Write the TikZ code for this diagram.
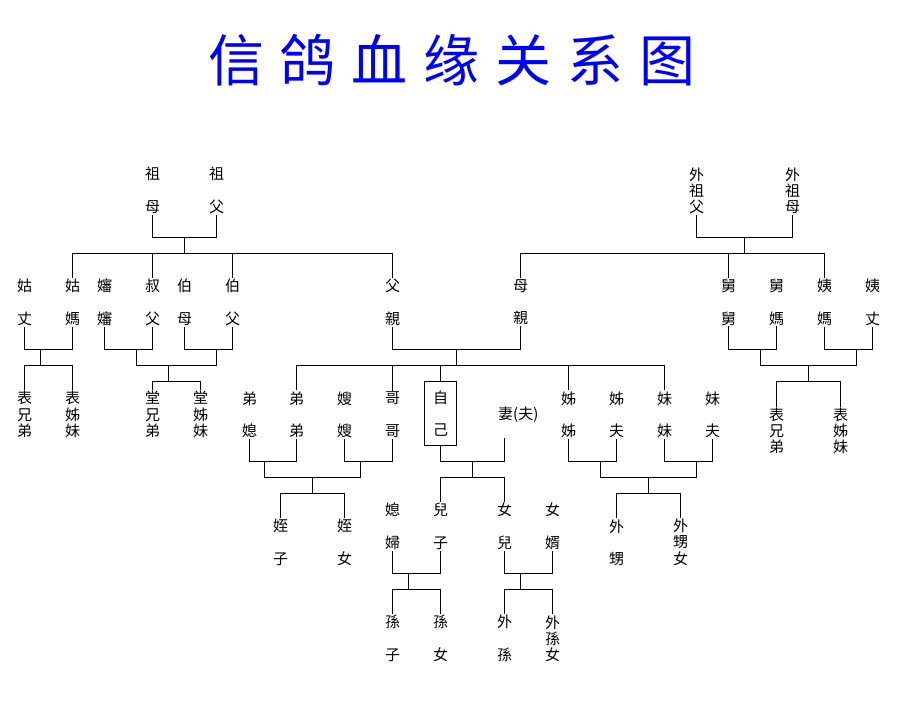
\documentclass[tikz,border=0pt]{standalone}
\usepackage{fontspec}
\newfontfamily\tcfont{Noto Sans CJK TC}
\newfontfamily\scfont{Noto Sans CJK SC}
\begin{document}
\begin{tikzpicture}[x=1pt,y=-1pt,
  lbl/.style={inner sep=0pt,outer sep=1.2pt,align=center},
  two/.style={lbl,font=\tcfont\fontsize{15}{32.5}\selectfont},
  three/.style={lbl,font=\tcfont\fontsize{15}{16.2}\selectfont},
  wire/.style={line width=1.1pt,black},
  selfbox/.style={draw,line width=1.1pt,minimum width=32pt,minimum height=64pt,inner sep=0pt,outer sep=0pt,align=center,font=\tcfont\fontsize{15}{32.5}\selectfont},
  titlestyle/.style={font=\scfont\fontsize{56}{60}\selectfont,text={rgb,255:red,0;green,0;blue,255},inner sep=0pt}
]
\useasboundingbox (0,0) rectangle (900,710);
\fill[white] (0,0) rectangle (900,710);

\node[titlestyle] (title) at (452,60) {信\hspace{16pt}鸽\hspace{16pt}血\hspace{16pt}缘\hspace{16pt}关\hspace{16pt}系\hspace{16pt}图};

% grandparents
\node[two] (zumu) at (152.5,190.5) {祖\\母};
\node[two] (zufu) at (216.5,190.5) {祖\\父};
\node[three] (wzf) at (696.5,191) {外\\祖\\父};
\node[three] (wzm) at (792.5,191) {外\\祖\\母};

% row 2
\node[two] (guzhang) at (24.5,302.2) {姑\\丈};
\node[two] (guma) at (72.5,302.2) {姑\\媽};
\node[two] (shenshen) at (104.5,302.2) {嬸\\嬸};
\node[two] (shufu) at (152.5,302.2) {叔\\父};
\node[two] (bomu) at (184.5,302.2) {伯\\母};
\node[two] (bofu) at (232.5,302.2) {伯\\父};
\node[two] (fuqin) at (392.5,302.2) {父\\親};
\node[two] (muqin) at (520.5,302.2) {母\\親};
\node[two] (jiujiu) at (728.5,302.2) {舅\\舅};
\node[two] (jiuma) at (776.5,302.2) {舅\\媽};
\node[two] (yima) at (824.5,302.2) {姨\\媽};
\node[two] (yizhang) at (872.5,302.2) {姨\\丈};

% row 3
\node[three] (biaoxd1) at (24.5,414.3) {表\\兄\\弟};
\node[three] (biaozm1) at (72.5,414.3) {表\\姊\\妹};
\node[three] (tangxd) at (152.5,414.3) {堂\\兄\\弟};
\node[three] (tangzm) at (200.5,414.3) {堂\\姊\\妹};
\node[two] (dixi) at (249.5,414.7) {弟\\媳};
\node[two] (didi) at (296.5,414.7) {弟\\弟};
\node[two] (saosao) at (344.5,414.7) {嫂\\嫂};
\node[two] (gege) at (392.5,414.7) {哥\\哥};
\node[selfbox] (self) at (440.5,413.5) {自\\己};
\node[lbl,font=\tcfont\fontsize{15}{18}\selectfont,anchor=west] (qi) at (497,415) {妻(夫)};
\node[two] (jiejie) at (568.5,414.7) {姊\\姊};
\node[two] (jiefu) at (616.5,414.7) {姊\\夫};
\node[two] (meimei) at (664.5,414.7) {妹\\妹};
\node[two] (meifu) at (712.5,414.7) {妹\\夫};
\node[three] (biaoxd2) at (776.5,431) {表\\兄\\弟};
\node[three] (biaozm2) at (840.5,431) {表\\姊\\妹};

% row 4
\node[two] (zhizi) at (280.5,542.2) {姪\\子};
\node[two] (zhinu) at (344.5,542.2) {姪\\女};
\node[two] (xifu) at (392.5,526.2) {媳\\婦};
\node[two] (erzi) at (440.5,526.2) {兒\\子};
\node[two] (nuer) at (504.5,526.2) {女\\兒};
\node[two] (nuxu) at (552.5,526.2) {女\\婿};
\node[two] (waisheng) at (616.5,542.7) {外\\甥};
\node[three] (waishengnu) at (680.5,542.2) {外\\甥\\女};

% row 5
\node[two] (sunzi) at (392.5,638.3) {孫\\子};
\node[two] (sunnu) at (440.5,638.3) {孫\\女};
\node[two] (waisun) at (504.5,638.3) {外\\孫};
\node[three] (waisunnu) at (552.5,638.5) {外\\孫\\女};

% junctions
\coordinate (jzu) at (184.5,237.5);
\coordinate (bzu) at (184.5,253.5);
\coordinate (jwz) at (744.5,237.5);
\coordinate (bwz) at (744.5,253.5);
\coordinate (jgu) at (40.5,349.5);
\coordinate (bgu) at (40.5,365.5);
\coordinate (jshu) at (136.5,349.5);
\coordinate (jbo) at (216.5,349.5);
\coordinate (mtang) at (168.5,365.5);
\coordinate (btang) at (168.5,381.5);
\coordinate (jfm) at (456.5,349.5);
\coordinate (bfm) at (456.5,365.5);
\coordinate (jjiu) at (760.5,349.5);
\coordinate (jyi) at (856.5,349.5);
\coordinate (mbiao) at (808.5,365.5);
\coordinate (bbiao) at (808.5,381.5);
\coordinate (jdi) at (264.5,461.5);
\coordinate (jsao) at (360.5,461.5);
\coordinate (mzhi) at (312.5,477.5);
\coordinate (bzhi) at (312.5,493.5);
\coordinate (jself) at (472.5,461.5);
\coordinate (bself) at (472.5,477.5);
\coordinate (jjie) at (600.5,461.5);
\coordinate (jmei) at (696.5,461.5);
\coordinate (msheng) at (648.5,477.5);
\coordinate (bsheng) at (648.5,493.5);
\coordinate (jxi) at (408.5,573.5);
\coordinate (bsun) at (408.5,589.5);
\coordinate (jnu) at (520.5,573.5);
\coordinate (bwsun) at (520.5,589.5);

% paternal grandparents
\draw[wire] (zumu.south) |- (jzu) -| (zufu.south);
\draw[wire] (jzu) -- (bzu);
\draw[wire] (guma.north) |- (bzu) -| (fuqin.north);
\draw[wire] (shufu.north) -- (shufu.north |- bzu);
\draw[wire] (bofu.north) -- (bofu.north |- bzu);

% maternal grandparents
\draw[wire] (wzf.south) |- (jwz) -| (wzm.south);
\draw[wire] (jwz) -- (bwz);
\draw[wire] (muqin.north) |- (bwz) -| (yima.north);
\draw[wire] (jiujiu.north) -- (jiujiu.north |- bwz);

% aunts / uncles (paternal)
\draw[wire] (guzhang.south) |- (jgu) -| (guma.south);
\draw[wire] (jgu) -- (bgu);
\draw[wire] (biaoxd1.north) |- (bgu) -| (biaozm1.north);
\draw[wire] (shenshen.south) |- (jshu) -| (shufu.south);
\draw[wire] (bomu.south) |- (jbo) -| (bofu.south);
\draw[wire] (jshu) |- (mtang) -| (jbo);
\draw[wire] (mtang) -- (btang);
\draw[wire] (tangxd.north) |- (btang) -| (tangzm.north);

% parents
\draw[wire] (fuqin.south) |- (jfm) -| (muqin.south);
\draw[wire] (jfm) -- (bfm);
\draw[wire] (didi.north) |- (bfm) -| (meimei.north);
\draw[wire] (gege.north) -- (gege.north |- bfm);
\draw[wire] (self.north) -- (self.north |- bfm);
\draw[wire] (jiejie.north) -- (jiejie.north |- bfm);

% aunts / uncles (maternal)
\draw[wire] (jiujiu.south) |- (jjiu) -| (jiuma.south);
\draw[wire] (yima.south) |- (jyi) -| (yizhang.south);
\draw[wire] (jjiu) |- (mbiao) -| (jyi);
\draw[wire] (mbiao) -- (bbiao);
\draw[wire] (biaoxd2.north) |- (bbiao) -| (biaozm2.north);

% brothers
\draw[wire] (dixi.south) |- (jdi) -| (didi.south);
\draw[wire] (saosao.south) |- (jsao) -| (gege.south);
\draw[wire] (jdi) |- (mzhi) -| (jsao);
\draw[wire] (mzhi) -- (bzhi);
\draw[wire] (zhizi.north) |- (bzhi) -| (zhinu.north);

% self
\draw[wire] (self.south) |- (jself) -| ([xshift=7.5pt,yshift=-14pt]qi.south west);
\draw[wire] (jself) -- (bself);
\draw[wire] (erzi.north) |- (bself) -| (nuer.north);

% sisters
\draw[wire] (jiejie.south) |- (jjie) -| (jiefu.south);
\draw[wire] (meimei.south) |- (jmei) -| (meifu.south);
\draw[wire] (jjie) |- (msheng) -| (jmei);
\draw[wire] (msheng) -- (bsheng);
\draw[wire] (waisheng.north) |- (bsheng) -| (waishengnu.north);

% children
\draw[wire] (xifu.south) |- (jxi) -| (erzi.south);
\draw[wire] (jxi) -- (bsun);
\draw[wire] (sunzi.north) |- (bsun) -| (sunnu.north);
\draw[wire] (nuer.south) |- (jnu) -| (nuxu.south);
\draw[wire] (jnu) -- (bwsun);
\draw[wire] (waisun.north) |- (bwsun) -| (waisunnu.north);
\end{tikzpicture}
\end{document}
